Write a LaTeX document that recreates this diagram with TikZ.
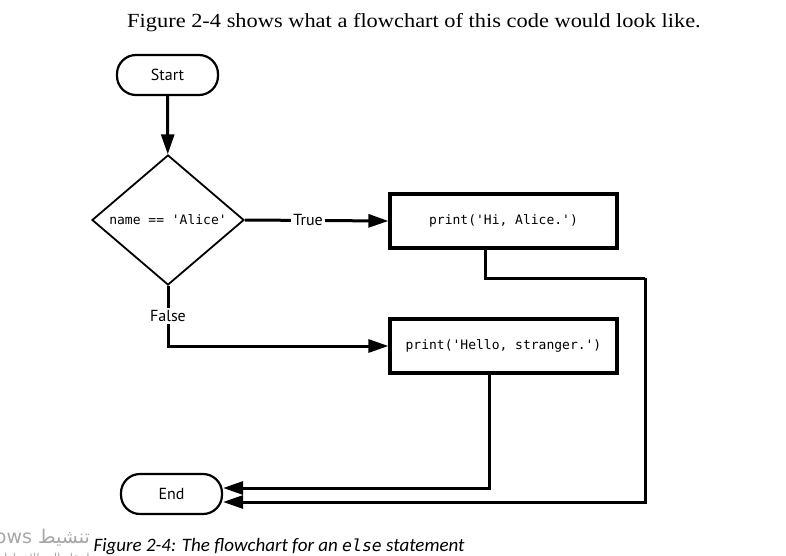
\documentclass[tikz,border=0pt]{standalone}
\usepackage{fontspec}
\setmainfont{Liberation Serif}
\newfontfamily\labelfont{PT Sans}
\newfontfamily\codefont{DejaVu Sans Mono}
\newfontfamily\capfont{Carlito}
\newfontfamily\arabicfont[Script=Arabic]{DejaVu Sans}
\TeXXeTstate=1
\usetikzlibrary{shapes.geometric,arrows.meta}
\tikzset{
  terminal/.style={draw, line width=2.2pt, rounded corners=19pt, minimum width=101pt,
    minimum height=40pt, font=\labelfont\fontsize{16}{18}\selectfont},
  decision/.style={draw, diamond, line width=1.8pt, minimum width=152pt, minimum height=130pt,
    inner sep=0pt, font=\codefont\fontsize{13}{15}\selectfont},
  process/.style={draw, line width=3.2pt, minimum width=227pt, minimum height=54pt,
    font=\codefont\fontsize{13}{15}\selectfont},
  flow/.style={line width=3pt, -{Triangle[length=20pt,width=13pt]}},
  branch/.style={fill=white, inner sep=2pt, font=\labelfont\fontsize{16}{18}\selectfont},
  overlay text/.style={anchor=base east, text=black!35, inner sep=0pt}
}
\begin{document}
\begin{tikzpicture}[x=1pt, y=-1pt]
\useasboundingbox (0,0) rectangle (786,556);
\node[anchor=base] (title) at (414,28) {\scalebox{1.12}[1]{\fontsize{20}{23}\selectfont Figure 2-4 shows what a flowchart of this code would look like.}};
\node[terminal] (start) at (167.5,75) {Start};
\node[decision] (cond) at (168,220) {name == 'Alice'};
\node[process] (hi) at (503.5,221) {print('Hi, Alice.')};
\node[process] (hello) at (503.5,346) {print('Hello, stranger.')};
\node[terminal] (end) at (171.5,494) {End};
\coordinate (turn) at (645,278);
\draw[flow] (start) -- (cond);
\draw[flow] (cond.east) -- node[branch, pos=.44] {True} (hi.west);
\draw[flow] (cond.south) |- node[branch, pos=.25] {False} (hello.west);
\draw[line width=3pt] ([xshift=-18.5pt]hi.south) |- (turn);
\draw[flow] (turn) |- ([yshift=-8pt]end.east);
\draw[flow] ([xshift=-14.5pt]hello.south) |- ([yshift=6pt]end.east);
% caption and screen overlay
\node[anchor=base west] (caption) at (90,551) {\capfont\itshape\fontsize{19}{22}\selectfont Figure 2-4: The flowchart for an {\codefont\fontsize{16.5}{19}\selectfont else} statement};
\node[overlay text] (mark) at (90,543) {\arabicfont\fontsize{19}{22}\selectfont\beginR تنشيط Windows\endR};
\node[overlay text] (mark2) at (90,562) {\arabicfont\fontsize{12}{14}\selectfont\beginR انتقل إلى الإعدادات لتنشيط Windows.\endR};
\end{tikzpicture}
\end{document}
